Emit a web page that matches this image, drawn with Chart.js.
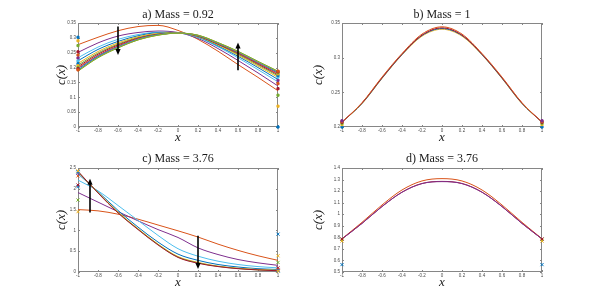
<!DOCTYPE html>
<html>
<head>
<meta charset="utf-8">
<script src="https://cdn.jsdelivr.net/npm/chart.js@4.4.0/dist/chart.umd.min.js"></script>
<style>
  html, body { margin: 0; padding: 0; background: #fff; }
  #wrap { position: relative; width: 600px; height: 306px; overflow: hidden; background: #fff; }
  #wrap canvas { position: absolute; }
</style>
</head>
<body>
<div id="wrap">
  <canvas id="chartA" width="300" height="153" style="left:0px;top:0px"></canvas>
  <canvas id="chartB" width="300" height="153" style="left:300px;top:0px"></canvas>
  <canvas id="chartC" width="300" height="156" style="left:0px;top:150px"></canvas>
  <canvas id="chartD" width="300" height="156" style="left:300px;top:150px"></canvas>
</div>
<script>
// --- DATA ---
const xs = [-1, -0.8, -0.6, -0.4, -0.2, 0, 0.2, 0.4, 0.6, 0.8, 1];
const xTicks = [-1, -0.8, -0.6, -0.4, -0.2, 0, 0.2, 0.4, 0.6, 0.8, 1];

const yTicksA = [0, 0.05, 0.1, 0.15, 0.2, 0.25, 0.3, 0.35];
const yTicksB = [0.2, 0.25, 0.3, 0.35];
const yTicksC = [0, 0.5, 1, 1.5, 2, 2.5];
const yTicksD = [0.5, 0.6, 0.7, 0.8, 0.9, 1, 1.1, 1.2, 1.3, 1.4];

const titles = ['a) Mass = 0.92', 'b) Mass = 1', 'c) Mass = 3.76', 'd) Mass = 3.76'];

// a) iterates, every second one drawn (oldest first)
const curvesA = [
  [0.277, 0.302, 0.324, 0.338, 0.342, 0.325, 0.295, 0.255, 0.210, 0.167, 0.122],
  [0.251, 0.283, 0.306, 0.318, 0.323, 0.318, 0.298, 0.264, 0.224, 0.182, 0.138],
  [0.233, 0.269, 0.295, 0.311, 0.319, 0.317, 0.301, 0.270, 0.233, 0.193, 0.152],
  [0.223, 0.261, 0.288, 0.307, 0.317, 0.317, 0.303, 0.273, 0.238, 0.200, 0.160],
  [0.214, 0.254, 0.283, 0.304, 0.315, 0.317, 0.304, 0.276, 0.242, 0.205, 0.167],
  [0.208, 0.249, 0.279, 0.301, 0.313, 0.317, 0.305, 0.278, 0.245, 0.209, 0.172],
  [0.203, 0.245, 0.276, 0.299, 0.312, 0.316, 0.306, 0.279, 0.248, 0.212, 0.176],
  [0.199, 0.241, 0.273, 0.297, 0.311, 0.316, 0.307, 0.281, 0.250, 0.214, 0.180],
  [0.196, 0.239, 0.271, 0.296, 0.311, 0.316, 0.308, 0.282, 0.251, 0.216, 0.182],
  [0.193, 0.237, 0.269, 0.295, 0.310, 0.316, 0.308, 0.282, 0.253, 0.218, 0.184],
  [0.191, 0.236, 0.268, 0.294, 0.310, 0.316, 0.308, 0.283, 0.253, 0.219, 0.185],
  [0.189, 0.234, 0.267, 0.293, 0.309, 0.316, 0.309, 0.284, 0.254, 0.220, 0.187],
  [0.188, 0.233, 0.266, 0.293, 0.309, 0.316, 0.309, 0.284, 0.255, 0.221, 0.188]
];
const aLeftMarks  = [0.302, 0.290, 0.274, 0.253, 0.242, 0.232, 0.222, 0.213, 0.206, 0.200, 0.196, 0.192];
const aRightMarks = [0.000, 0.070, 0.107, 0.129, 0.146, 0.157, 0.168, 0.174, 0.179, 0.183, 0.186, 0.188];
const arrowsA = [{ x: -0.6, from: 0.338, to: 0.242 }, { x: 0.6, from: 0.191, to: 0.284 }];

const curvesB = [
  [0.207, 0.2335, 0.270, 0.304, 0.331, 0.341, 0.331, 0.304, 0.270, 0.2335, 0.207],
  [0.207, 0.234, 0.2705, 0.3045, 0.332, 0.342, 0.332, 0.3045, 0.2705, 0.234, 0.207],
  [0.207, 0.2345, 0.271, 0.305, 0.3325, 0.343, 0.3325, 0.305, 0.271, 0.2345, 0.207],
  [0.207, 0.235, 0.272, 0.306, 0.334, 0.3445, 0.334, 0.306, 0.272, 0.235, 0.207]
];
const bLeftMarks  = [0.200, 0.2035, 0.2055, 0.207, 0.208, 0.209];
const bRightMarks = [0.200, 0.2035, 0.2055, 0.207, 0.208, 0.209];

const curvesC = [
  [1.50, 1.47, 1.39, 1.27, 1.13, 0.99, 0.84, 0.67, 0.52, 0.39, 0.28],
  [1.91, 1.68, 1.45, 1.23, 1.02, 0.83, 0.58, 0.42, 0.30, 0.22, 0.16],
  [2.21, 1.95, 1.60, 1.24, 0.88, 0.56, 0.38, 0.26, 0.18, 0.13, 0.10],
  [2.36, 1.93, 1.48, 1.08, 0.72, 0.43, 0.28, 0.18, 0.12, 0.08, 0.06],
  [2.40, 1.91, 1.44, 1.04, 0.67, 0.37, 0.23, 0.14, 0.09, 0.06, 0.04],
  [2.41, 1.905, 1.43, 1.03, 0.66, 0.36, 0.22, 0.135, 0.085, 0.05, 0.035],
  [2.42, 1.90, 1.42, 1.02, 0.65, 0.35, 0.21, 0.13, 0.08, 0.05, 0.03]
];
const cLeftMarks  = [2.05, 1.45, 1.73, 2.09, 2.31, 2.37, 2.40, 2.41, 2.43];
const cRightMarks = [0.91, 0.39, 0.23, 0.10, 0.06, 0.04, 0.03, 0.03, 0.02];
const arrowsC = [{ x: -0.88, from: 1.43, to: 2.24 }, { x: 0.2, from: 0.87, to: 0.07 }];

const curvesD = [
  [0.788, 0.930, 1.080, 1.210, 1.288, 1.308, 1.288, 1.210, 1.080, 0.930, 0.788],
  [0.786, 0.921, 1.067, 1.191, 1.266, 1.284, 1.266, 1.191, 1.067, 0.921, 0.786],
  [0.786, 0.920, 1.066, 1.190, 1.265, 1.282, 1.265, 1.190, 1.066, 0.920, 0.786]
];
const dLeftMarks  = [0.564, 0.768, 0.782, 0.786];
const dRightMarks = [0.564, 0.768, 0.782, 0.786];

// --- STYLE ---
const C = { blue: '#0072BD', orange: '#D95319', yellow: '#EDB120', purple: '#7E2F8E',
            green: '#77AC30', cyan: '#4DBEEE', red: '#A2142F' };
// every second colour of the MATLAB order
const lineCycle = [C.orange, C.purple, C.cyan, C.blue, C.yellow, C.green, C.red];
const markCycle = [C.blue, C.yellow, C.green, C.red, C.orange, C.purple, C.cyan];
const colorsB = [C.yellow, C.blue, C.red, C.orange];
const colorsD = [C.orange, C.red, C.purple];
const AXIS = '#868686';
const SERIF = "'Liberation Serif', 'Times New Roman', serif";

// --- PLUGINS ---
const boxPlugin = {
  id: 'matlabBox',
  beforeDatasetsDraw(chart) {
    const { ctx, chartArea: a, scales: { x, y } } = chart;
    ctx.save();
    ctx.strokeStyle = AXIS;
    ctx.lineWidth = 1;
    ctx.strokeRect(a.left + 0.5, a.top + 0.5, a.right - a.left - 1, a.bottom - a.top - 1);
    ctx.beginPath();
    x.ticks.forEach(t => {
      const px = Math.round(x.getPixelForValue(t.value)) + 0.5;
      ctx.moveTo(px, a.bottom); ctx.lineTo(px, a.bottom - 2);
      ctx.moveTo(px, a.top); ctx.lineTo(px, a.top + 2);
    });
    y.ticks.forEach(t => {
      const py = Math.round(y.getPixelForValue(t.value)) + 0.5;
      ctx.moveTo(a.left, py); ctx.lineTo(a.left + 2, py);
      ctx.moveTo(a.right, py); ctx.lineTo(a.right - 2, py);
    });
    ctx.stroke();
    ctx.restore();
  }
};

const arrowPlugin = {
  id: 'arrows',
  afterDatasetsDraw(chart, args, opts) {
    const { ctx, scales: { x, y } } = chart;
    (opts.list || []).forEach(a => {
      const px = x.getPixelForValue(a.x);
      const y0 = y.getPixelForValue(a.from), y1 = y.getPixelForValue(a.to);
      const dir = y1 < y0 ? -1 : 1;
      ctx.save();
      ctx.strokeStyle = '#000';
      ctx.fillStyle = '#000';
      ctx.lineWidth = 1.6;
      ctx.beginPath();
      ctx.moveTo(px, y0);
      ctx.lineTo(px, y1 - dir * 4);
      ctx.stroke();
      ctx.beginPath();
      ctx.moveTo(px, y1);
      ctx.lineTo(px - 2.6, y1 - dir * 6);
      ctx.lineTo(px + 2.6, y1 - dir * 6);
      ctx.closePath();
      ctx.fill();
      ctx.restore();
    });
  }
};

// centre the title over the plot box, like MATLAB does
const titleCenter = {
  id: 'titleCenter',
  afterLayout(chart) {
    const t = chart.titleBlock;
    if (t) { t.left = chart.chartArea.left; t.right = chart.chartArea.right; }
  }
};

// --- CHART BUILDER ---
function makeChart(id, p) {
  const datasets = [];
  const colors = p.colors || lineCycle;
  p.curves.forEach((vals, i) => {
    datasets.push({
      data: xs.map((x, j) => ({ x: x, y: vals[j] })),
      borderColor: colors[i % colors.length],
      borderWidth: 1,
      pointRadius: 0,
      fill: false,
      cubicInterpolationMode: 'monotone',
      order: -i
    });
  });
  p.left.forEach((v, i) => {
    const col = markCycle[i % markCycle.length];
    datasets.push({
      data: [{ x: -1, y: v }, { x: 1, y: p.right[i] }],
      showLine: false,
      pointStyle: p.markStyle,
      pointRadius: p.markStyle === 'rect' ? 1.5 : 2.2,
      borderWidth: 1,
      borderColor: col,
      backgroundColor: col,
      clip: false,
      order: -1000 - i
    });
  });

  const tickFont = { family: "'Liberation Sans', Arial, sans-serif", size: 4.5 };
  return new Chart(document.getElementById(id), {
    type: 'line',
    data: { datasets },
    plugins: [boxPlugin, arrowPlugin, titleCenter],
    options: {
      responsive: false,
      animation: false,
      events: [],
      layout: { padding: { left: 0, right: p.padR, top: 0, bottom: 0 } },
      plugins: {
        legend: { display: false },
        tooltip: { enabled: false },
        title: {
          display: true,
          text: p.title,
          color: '#1a1a1a',
          font: { family: SERIF, size: 12, weight: 'normal', lineHeight: 1.2 },
          padding: p.titlePad
        },
        arrows: { list: p.arrows || [] }
      },
      scales: {
        x: {
          type: 'linear', min: -1, max: 1,
          afterBuildTicks: s => { s.ticks = xTicks.map(v => ({ value: v })); },
          afterFit: s => { s.height = p.xh; },
          grid: { display: false, drawTicks: false }, border: { display: false },
          ticks: { font: tickFont, color: '#4a4a4a', padding: 1.5, maxRotation: 0, autoSkip: false,
                   callback: v => String(v) },
          title: { display: true, text: 'x', color: '#1a1a1a',
                   font: { family: SERIF, style: 'italic', size: 13, lineHeight: 1.2 },
                   padding: { top: 0, bottom: p.xtPad } }
        },
        y: {
          type: 'linear', min: p.yTicks[0], max: p.yTicks[p.yTicks.length - 1],
          afterBuildTicks: s => { s.ticks = p.yTicks.map(v => ({ value: v })); },
          afterFit: s => { s.width = p.yw; },
          grid: { display: false, drawTicks: false }, border: { display: false },
          ticks: { font: tickFont, color: '#4a4a4a', padding: 2, autoSkip: false,
                   callback: v => String(v) },
          title: { display: true, text: 'c(x)', color: '#1a1a1a',
                   font: { family: SERIF, style: 'italic', size: 13, lineHeight: 1.2 },
                   padding: { top: p.ytPad, bottom: 0 } }
        }
      }
    }
  });
}

makeChart('chartA', { title: titles[0], curves: curvesA, left: aLeftMarks, right: aRightMarks,
  arrows: arrowsA, yTicks: yTicksA, markStyle: 'rect',
  yw: 78, padR: 22, xh: 26, titlePad: { top: 7.8, bottom: 0.8 }, xtPad: 7.2, ytPad: 54 });

makeChart('chartB', { title: titles[1], curves: curvesB, left: bLeftMarks, right: bRightMarks,
  colors: colorsB, yTicks: yTicksB, markStyle: 'rect',
  yw: 42, padR: 58, xh: 26, titlePad: { top: 7.8, bottom: 0.8 }, xtPad: 7.2, ytPad: 10.5 });

makeChart('chartC', { title: titles[2], curves: curvesC, left: cLeftMarks, right: cRightMarks,
  arrows: arrowsC, yTicks: yTicksC, markStyle: 'crossRot',
  yw: 78, padR: 22, xh: 34, titlePad: { top: 1.8, bottom: 1.8 }, xtPad: 15.2, ytPad: 54 });

makeChart('chartD', { title: titles[3], curves: curvesD, left: dLeftMarks, right: dRightMarks,
  colors: colorsD, yTicks: yTicksD, markStyle: 'crossRot',
  yw: 42, padR: 58, xh: 34, titlePad: { top: 1.8, bottom: 1.8 }, xtPad: 15.2, ytPad: 10.5 });
</script>
</body>
</html>
